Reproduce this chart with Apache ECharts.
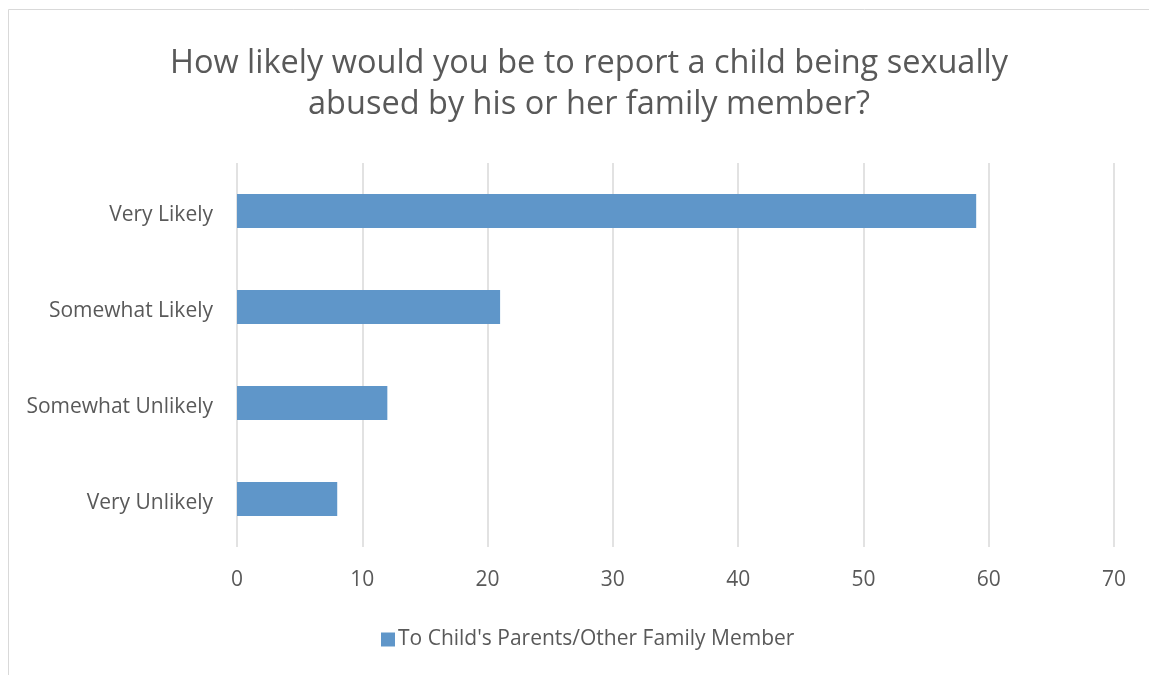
<!DOCTYPE html>
<html>
<head>
<meta charset="utf-8">
<script src="https://cdn.jsdelivr.net/npm/echarts@6/dist/echarts.min.js"></script>
<style>
  html, body { margin: 0; padding: 0; background: #fff; }
  #chart { width: 1149px; height: 675px; }
</style>
</head>
<body>
<div id="chart"></div>
<script>
// Survey responses, top to bottom as shown on the chart
const categories = ['Very Likely', 'Somewhat Likely', 'Somewhat Unlikely', 'Very Unlikely'];
const values = [59, 21, 12, 8];
const seriesName = "To Child's Parents/Other Family Member";
const titleText = 'How likely would you be to report a child being sexually\nabused by his or her family member?';

const FONT = '"Open Sans", sans-serif';
const TEXT = '#595959';

const chart = echarts.init(document.getElementById('chart'), null, { renderer: 'canvas' });
chart.setOption({
  animation: false,
  backgroundColor: '#fff',
  graphic: [{
    type: 'rect',
    shape: { x: 8.5, y: 9.5, width: 1200, height: 700 },
    style: { fill: 'none', stroke: '#d9d9d9', lineWidth: 1 },
    silent: true
  }],
  title: {
    text: titleText,
    left: 584,
    top: 38,
    textAlign: 'center',
    textStyle: { fontFamily: FONT, fontSize: 32.5, fontWeight: 'normal', color: TEXT, lineHeight: 41 }
  },
  legend: {
    data: [seriesName],
    left: 376,
    top: 624,
    itemWidth: 14,
    itemHeight: 14,
    itemGap: 5,
    icon: 'rect',
    textStyle: { fontFamily: FONT, fontSize: 21, color: TEXT, padding: [0, 0, 0, -2] }
  },
  grid: { left: 237, right: 35, top: 163, bottom: 128, containLabel: false },
  xAxis: {
    type: 'value',
    min: 0, max: 70, interval: 10,
    axisLine: { show: false },
    axisTick: { show: false },
    splitLine: { show: true, lineStyle: { color: '#d9d9d9', width: 1.5 } },
    axisLabel: { fontFamily: FONT, fontSize: 21, color: TEXT, margin: 23 }
  },
  yAxis: {
    type: 'category',
    data: categories,
    inverse: true,
    axisLine: { show: false },
    axisTick: { show: false },
    axisLabel: { fontFamily: FONT, fontSize: 21, color: TEXT, margin: 24, verticalAlign: 'top', lineHeight: 21, padding: [-6, 0, 0, 0] }
  },
  series: [{
    name: seriesName,
    type: 'bar',
    data: values,
    barWidth: 34,
    itemStyle: { color: '#5f96c9' }
  }]
});
</script>
</body>
</html>
